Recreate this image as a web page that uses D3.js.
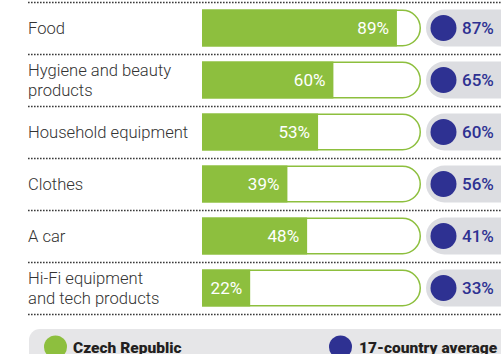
<!DOCTYPE html>
<html><head><meta charset="utf-8">
<script src="https://cdn.jsdelivr.net/npm/d3@7"></script>
<style>
html,body{margin:0;padding:0;background:#fff;overflow:hidden}
svg{display:block}
</style></head>
<body>
<script>
const categories = ["Food", "Hygiene and beauty products", "Household equipment", "Clothes", "A car", "Hi-Fi equipment and tech products"];
const labelLines = [["Food"], ["Hygiene and beauty", "products"], ["Household equipment"], ["Clothes"], ["A car"], ["Hi-Fi equipment", "and tech products"]];
const czech = [89, 60, 53, 39, 48, 22];
const average = [87, 65, 60, 56, 41, 33];
const legendLabels = ["Czech Republic", "17-country average"];

const W = 501, H = 354;
const GREEN = "#8dbf3e", BLUE = "#2e3192", PILL = "#dcdde1", LEG = "#e6e6e8";
const svg = d3.select("body").append("svg").attr("width", W).attr("height", H);

const y = d3.scaleBand().domain(categories).range([2, 314]).paddingInner(0.29).paddingOuter(0.145);
const x = d3.scaleLinear().domain([0, 100]).range([202, 421]);
const bh = y.bandwidth();
const step = y.step();

// dotted dividers
const divs = d3.range(categories.length + 1).map(i => 2 + i * step);
svg.selectAll("line.div").data(divs).join("line")
  .attr("x1", 28).attr("x2", W).attr("y1", d => d + 0.5).attr("y2", d => d + 0.5)
  .attr("stroke", "#3a3a3a").attr("stroke-width", 1.6).attr("stroke-dasharray", "1.6,1.4");

const rows = svg.selectAll("g.row").data(categories).join("g")
  .attr("transform", d => `translate(0,${y(d)})`);

// labels
rows.each(function(d, i) {
  const g = d3.select(this);
  const lines = labelLines[i];
  const cy = bh / 2;
  const lh = 21;
  const t = g.append("text").attr("font-family", "Roboto").attr("font-weight", 300)
    .attr("font-size", 16.6).attr("fill", "#333");
  lines.forEach((ln, k) => {
    t.append("tspan").attr("x", 28).attr("y", cy + 6 + (k - (lines.length - 1) / 2) * lh).text(ln);
  });
});

// bar outline (rounded right end)
const r = bh / 2;
rows.append("path")
  .attr("d", () => {
    const x0 = x(0), x1 = x(100);
    return `M${x0},0.75 L${x1 - r},0.75 A${r - 0.75},${r - 0.75} 0 0 1 ${x1 - r},${bh - 0.75} L${x0},${bh - 0.75}`;
  })
  .attr("fill", "#fff").attr("stroke", GREEN).attr("stroke-width", 1.5);

// fill
rows.append("rect").attr("x", x(0)).attr("y", 0)
  .attr("width", (d, i) => x(czech[i]) - x(0)).attr("height", bh).attr("fill", GREEN);

rows.append("text").attr("x", (d, i) => x(czech[i]) - 8).attr("y", bh / 2 + 6.5)
  .attr("text-anchor", "end").attr("font-family", "Roboto").attr("font-weight", 400)
  .attr("font-size", 17).attr("fill", "#fff").text((d, i) => czech[i] + "%");

// average pill
rows.append("rect").attr("x", 426).attr("y", 0).attr("width", 120).attr("height", bh)
  .attr("rx", r).attr("fill", PILL);
rows.append("circle").attr("cx", 443.5).attr("cy", bh / 2).attr("r", 13).attr("fill", BLUE);
rows.append("text").attr("x", 462).attr("y", bh / 2 + 6.5)
  .attr("font-family", "Roboto").attr("font-weight", 500).attr("font-size", 17)
  .attr("fill", BLUE).text((d, i) => average[i] + "%");

// legend
svg.append("rect").attr("x", 29).attr("y", 329).attr("width", 500).attr("height", 60)
  .attr("rx", 11).attr("fill", LEG);
const leg = [{c: GREEN, cx: 55.5, tx: 73, t: legendLabels[0]}, {c: BLUE, cx: 340.5, tx: 359, t: legendLabels[1]}];
leg.forEach(l => {
  svg.append("circle").attr("cx", l.cx).attr("cy", 347).attr("r", 11.5).attr("fill", l.c);
  svg.append("text").attr("x", l.tx).attr("y", 353).attr("font-family", "Roboto")
    .attr("font-weight", 900).attr("font-size", 15.5).attr("fill", "#231f20").text(l.t);
});
</script>
</body></html>
